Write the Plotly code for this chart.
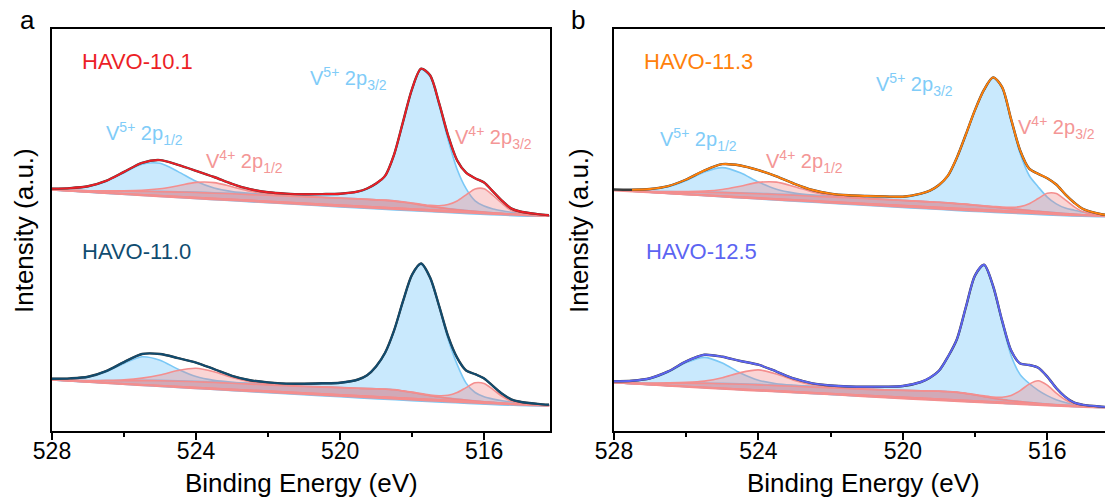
import plotly.graph_objects as go

W, H = 1105, 501

# ---------------- data (binding energy grid, eV) ----------------
energy = [528.0, 527.5, 527.0, 526.5, 526.0, 525.5, 525.0, 524.5, 524.0, 523.5,
          523.0, 522.5, 522.0, 521.5, 521.0, 520.5, 520.0, 519.5, 519.25, 519.0,
          518.75, 518.5, 518.25, 518.0, 517.75, 517.5, 517.25, 517.0, 516.75, 516.5,
          516.25, 516.0, 515.75, 515.5, 515.25, 515.0, 514.5, 514.2]

x_ticks = [528, 524, 520, 516]

# HAVO-10.1 (panel a, upper trace)
base_a1 = [241.0, 215.0]
bg_a1 = [241.0, 240.6, 240.1, 240.0, 239.8, 239.6, 239.3, 238.9, 238.5, 237.8,
         237.2, 236.4, 235.7, 235.0, 234.2, 233.5, 232.7, 232.0, 231.5, 231.0,
         230.6, 229.9, 228.8, 227.5, 226.0, 224.6, 223.4, 222.3, 221.3, 220.4,
         219.7, 218.9, 218.2, 217.6, 217.0, 216.5, 215.6, 215.0]
v5_32_a1 = [0.2, 0.2, 0.2, 0.2, 0.3, 0.3, 0.3, 0.4, 0.4, 0.5, 0.6, 0.8, 0.9, 1.2, 1.8,
            2.8, 4.0, 7.0, 10.5, 16.0, 24.0, 46.0, 80.0, 114.0, 135.5, 130.0, 102.5,
            69.0, 40.5, 22.0, 10.5, 6.0, 3.8, 2.6, 1.8, 1.3, 0.8, 0.5]
v4_32_a1 = [0] * 16 + [0.1, 0.15, 0.2, 0.2, 0.3, 0.3, 0.4, 0.5, 0.7, 1.0, 1.9, 4.1,
                       8.7, 15.8, 22.4, 23.4, 17.3, 9.9, 3.7, 1.6, 0.4, 0.2]
v5_12_a1 = [1.1, 1.9, 4.2, 9.6, 18.5, 27.2, 28.4, 20.5, 11.2, 5.1, 2.2, 1.2, 0.8, 0.6,
            0.5, 0.4, 0.3, 0.3, 0.2, 0.2, 0.2, 0.2, 0.2, 0.2] + [0.1] * 14
v4_12_a1 = [0.1, 0.2, 0.2, 0.3, 0.5, 1.1, 2.9, 6.3, 10.1, 10.6, 7.1, 3.4, 1.4, 0.6,
            0.3, 0.2, 0.2, 0.1, 0.1, 0.1] + [0] * 18

# HAVO-11.0 (panel a, lower trace)
base_a2 = [51.0, 25.4]
bg_a2 = [51.0, 50.6, 50.1, 50.2, 50.3, 50.4, 50.2, 49.8, 49.2, 48.5,
         47.7, 46.9, 46.1, 45.2, 44.5, 43.9, 43.3, 42.6, 42.3, 42.1,
         41.8, 41.2, 39.9, 38.5, 36.9, 35.3, 34.0, 32.8, 31.8, 30.9,
         30.0, 29.2, 28.6, 27.9, 27.4, 26.9, 26.0, 25.4]
v5_32_a2 = [0.2, 0.2, 0.2, 0.25, 0.3, 0.3, 0.4, 0.4, 0.5, 0.6, 0.7, 0.8, 1.0, 1.3, 2.2,
            3.2, 4.5, 8.5, 13.0, 22.0, 36.0, 59.0, 89.8, 117.4, 130.0, 117.4, 89.8,
            59.0, 34.8, 17.0, 8.5, 5.0, 3.3, 2.4, 1.7, 1.3, 0.7, 0.5]
v4_32_a2 = [0] * 16 + [0.1, 0.1, 0.15, 0.2, 0.2, 0.25, 0.3, 0.4, 0.5, 0.7, 1.3, 2.9,
                       6.6, 12.5, 18.2, 18.3, 12.8, 6.8, 2.5, 1.0, 0.3, 0.2]
v5_12_a2 = [0.8, 1.5, 3.6, 8.9, 17.3, 23.8, 20.6, 12.0, 5.2, 2.1, 1.0, 0.6, 0.5, 0.4,
            0.3, 0.3, 0.2, 0.2, 0.2, 0.2, 0.2] + [0.1] * 17
v4_12_a2 = [0.2, 0.3, 0.3, 0.5, 1.0, 2.5, 5.8, 10.7, 13.5, 10.7, 5.8, 2.5, 1.0, 0.5,
            0.3, 0.3, 0.2, 0.1, 0.1, 0.1] + [0] * 18

# HAVO-11.3 (panel b, upper trace)
base_b1 = [240.4, 214.6]
bg_b1 = [240.4, 239.8, 239.3, 239.1, 238.9, 238.7, 238.4, 237.9, 237.2, 236.5,
         235.7, 234.8, 234.0, 233.2, 232.3, 231.4, 230.4, 229.5, 229.0, 228.6,
         228.0, 227.3, 226.6, 225.7, 224.8, 224.0, 223.1, 222.2, 221.4, 220.5,
         219.6, 218.9, 218.1, 217.4, 216.8, 216.2, 215.2, 214.6]
v5_32_b1 = [0.2, 0.2, 0.2, 0.25, 0.3, 0.3, 0.35, 0.4, 0.5, 0.55, 0.7, 0.8, 1.0, 1.3, 1.9,
            2.6, 3.3, 7.5, 11.0, 17.0, 27.0, 46.0, 70.0, 95.0, 116.0, 129.0, 120.0,
            88.0, 56.0, 35.0, 24.5, 15.0, 9.0, 5.5, 4.0, 2.5, 1.0, 0.6]
v4_32_b1 = [0] * 16 + [0.1, 0.1, 0.12, 0.15, 0.18, 0.22, 0.26, 0.32, 0.4, 0.52, 0.76,
                       1.4, 3.0, 6.8, 12.9, 18.8, 19.3, 13.7, 7.4, 3.0, 0.5, 0.3]
v5_12_b1 = [0.7, 1.1, 2.2, 5.2, 11.7, 20.3, 25.0, 20.3, 11.7, 5.2, 2.2, 1.1, 0.7, 0.5,
            0.4, 0.3, 0.3, 0.2, 0.2, 0.2, 0.2] + [0.1] * 17
v4_12_b1 = [0.2, 0.2, 0.3, 0.35, 0.6, 1.2, 3.1, 6.9, 11.4, 12.4, 8.6, 4.3, 1.7, 0.7,
            0.4, 0.3, 0.2, 0.1, 0.1, 0.1] + [0] * 18

# HAVO-12.5 (panel b, lower trace)
base_b2 = [48.3, 23.3]
bg_b2 = [48.3, 47.9, 47.5, 47.6, 47.7, 47.6, 47.3, 46.8, 46.1, 45.4,
         44.7, 43.9, 43.1, 42.3, 41.6, 41.0, 40.5, 40.1, 39.9, 39.7,
         39.3, 38.6, 37.4, 36.0, 34.4, 32.8, 31.5, 30.3, 29.4, 28.5,
         27.7, 26.9, 26.3, 25.7, 25.2, 24.7, 23.8, 23.3]
v5_32_b2 = [0.2, 0.2, 0.2, 0.25, 0.3, 0.3, 0.35, 0.4, 0.5, 0.55, 0.7, 0.8, 1.0, 1.3, 2.0,
            2.8, 4.0, 8.5, 13.0, 20.0, 34.5, 53.0, 86.5, 119.0, 131.0, 111.0, 76.5,
            45.0, 27.0, 19.0, 13.0, 8.5, 5.0, 2.8, 1.2, 0.5, 0.2, 0.1]
v4_32_b2 = [0] * 16 + [0.1, 0.1, 0.15, 0.2, 0.27, 0.33, 0.4, 0.5, 0.7, 1.1, 2.3, 5.2,
                       11.0, 18.4, 22.5, 18.9, 11.5, 5.5, 1.8, 0.8, 0.3, 0.2]
v5_12_b2 = [1.0, 1.9, 4.7, 11.2, 20.7, 26.0, 20.7, 11.2, 4.7, 1.9, 1.0, 0.65, 0.5, 0.4,
            0.3, 0.3, 0.2, 0.2, 0.2, 0.2, 0.2] + [0.1] * 17
v4_12_b2 = [0.2, 0.25, 0.35, 0.5, 0.9, 2.3, 5.9, 11.6, 15.0, 11.6, 5.9, 2.3, 0.9, 0.5,
            0.35, 0.25, 0.2, 0.1, 0.1, 0.1] + [0] * 18

sample_names = ["HAVO-10.1", "HAVO-11.0", "HAVO-11.3", "HAVO-12.5"]

# ---------------- styles ----------------
FONT = "Liberation Sans, Arial, sans-serif"
BLUE_LINE = "rgb(122,200,246)"
BLUE_FILL = "rgba(135,206,250,0.45)"
PINK_LINE = "rgb(244,142,142)"
PINK_FILL = "rgba(240,128,128,0.33)"
RAW = "rgb(60,60,60)"
ENV_COLORS = ["rgb(236,30,38)", "rgb(16,76,112)", "rgb(255,128,10)", "rgb(92,100,242)"]
LBL_BLUE = "rgb(128,204,248)"
LBL_PINK = "rgb(244,150,150)"

fig = go.Figure()


def add_spectrum(xa, ya, bg, base, comps, env_color, start=0, raw_start=0):
    xs = energy[start:]
    for peak, kind in comps:
        yy = [b + p for b, p in zip(bg, peak)][start:]
        line_c = BLUE_LINE if kind == "blue" else PINK_LINE
        fill_c = BLUE_FILL if kind == "blue" else PINK_FILL
        fig.add_trace(go.Scatter(
            x=xs + [energy[-1], energy[start]],
            y=yy + [base[1], bg[start]],
            mode="lines", fill="toself", fillcolor=fill_c,
            line=dict(color=line_c, width=1.6, shape="spline", smoothing=0.8),
            xaxis=xa, yaxis=ya, showlegend=False, hoverinfo="skip"))
    fig.add_trace(go.Scatter(x=[energy[0], energy[-1]], y=base, mode="lines",
                             line=dict(color=PINK_LINE, width=1.6),
                             xaxis=xa, yaxis=ya, showlegend=False, hoverinfo="skip"))
    env = list(bg)
    for peak, _ in comps:
        env = [e + p for e, p in zip(env, peak)]
    fig.add_trace(go.Scatter(x=energy[raw_start:], y=env[raw_start:], mode="lines",
                             line=dict(color=RAW, width=2.4, shape="spline", smoothing=0.8),
                             xaxis=xa, yaxis=ya, showlegend=False, hoverinfo="skip"))
    fig.add_trace(go.Scatter(x=xs, y=env[start:], mode="lines",
                             line=dict(color=env_color, width=1.9, shape="spline", smoothing=0.8),
                             xaxis=xa, yaxis=ya, showlegend=False, hoverinfo="skip"))


add_spectrum("x", "y", bg_a1, base_a1,
             [(v5_12_a1, "blue"), (v5_32_a1, "blue"), (v4_12_a1, "pink"), (v4_32_a1, "pink")],
             ENV_COLORS[0])
add_spectrum("x", "y", bg_a2, base_a2,
             [(v5_12_a2, "blue"), (v5_32_a2, "blue"), (v4_12_a2, "pink"), (v4_32_a2, "pink")],
             ENV_COLORS[1])
add_spectrum("x2", "y2", bg_b1, base_b1,
             [(v5_12_b1, "blue"), (v5_32_b1, "blue"), (v4_12_b1, "pink"), (v4_32_b1, "pink")],
             ENV_COLORS[2], start=1, raw_start=0)
add_spectrum("x2", "y2", bg_b2, base_b2,
             [(v5_12_b2, "blue"), (v5_32_b2, "blue"), (v4_12_b2, "pink"), (v4_32_b2, "pink")],
             ENV_COLORS[3])


def px(x):
    return x / W


def py(y):
    return 1 - y / H


y_dom = [py(431), py(29)]
xcommon = dict(showline=True, linecolor="black", linewidth=1.5, ticks="outside",
               ticklen=7, tickwidth=1.5, tickcolor="black", tickmode="array",
               tickvals=x_ticks, ticktext=[str(t) for t in x_ticks],
               ticklabelstandoff=-8,
               minor=dict(ticks="outside", ticklen=4, tickwidth=1.5, tickcolor="black",
                          tickmode="array", tickvals=[526, 522, 518]),
               showgrid=False, zeroline=False, automargin=False,
               tickfont=dict(family=FONT, size=23, color="black"))
ycommon = dict(showline=True, linecolor="black", linewidth=1.5, ticks="",
               showticklabels=False, showgrid=False, zeroline=False, range=[0, 402],
               domain=y_dom, automargin=False)

fig.update_layout(
    width=W, height=H, margin=dict(l=0, r=0, t=0, b=0, autoexpand=False),
    paper_bgcolor="white", plot_bgcolor="white", showlegend=False,
    xaxis=dict(domain=[px(52), px(550)], range=[528, 514.17], mirror=True,
               anchor="y", **xcommon),
    yaxis=dict(anchor="x", mirror=True, **ycommon),
    xaxis2=dict(domain=[px(614), 1.0], range=[528, 514.40], mirror=True,
                anchor="y2", **xcommon),
    yaxis2=dict(anchor="x2", mirror=False, **ycommon),
)

ann = []


def text(x, y, s, size, color, xanchor="left", angle=0):
    ann.append(dict(x=px(x), y=py(y), xref="paper", yref="paper", text=s,
                    showarrow=False, xanchor=xanchor, yanchor="middle",
                    textangle=angle, font=dict(family=FONT, size=size, color=color)))


text(27, 20, "a", 26, "black", "center")
text(578, 20, "b", 26, "black", "center")
for cx in (301, 863):
    text(cx, 483, "Binding Energy (eV)", 26, "black", "center")
text(24, 231, "Intensity (a.u.)", 26, "black", "center", -90)
text(579, 231, "Intensity (a.u.)", 26, "black", "center", -90)

text(80, 62, sample_names[0], 22, ENV_COLORS[0])
text(80, 252, sample_names[1], 22, ENV_COLORS[1])
text(642, 62, sample_names[2], 22, ENV_COLORS[2])
text(644, 252, sample_names[3], 22, ENV_COLORS[3])

lab52_12 = "V<sup>5+</sup> 2p<sub>1/2</sub>"
lab42_12 = "V<sup>4+</sup> 2p<sub>1/2</sub>"
lab52_32 = "V<sup>5+</sup> 2p<sub>3/2</sub>"
lab42_32 = "V<sup>4+</sup> 2p<sub>3/2</sub>"

text(104, 134, lab52_12, 20, LBL_BLUE)
text(204, 161, lab42_12, 20, LBL_PINK)
text(308, 78, lab52_32, 20, LBL_BLUE)
text(453, 138, lab42_32, 20, LBL_PINK)
text(658, 139, lab52_12, 20, LBL_BLUE)
text(764, 161, lab42_12, 20, LBL_PINK)
text(874, 84, lab52_32, 20, LBL_BLUE)
text(1016, 128, lab42_32, 20, LBL_PINK)

fig.update_layout(annotations=ann)

fig.write_html("out.html", config={"displayModeBar": False})
